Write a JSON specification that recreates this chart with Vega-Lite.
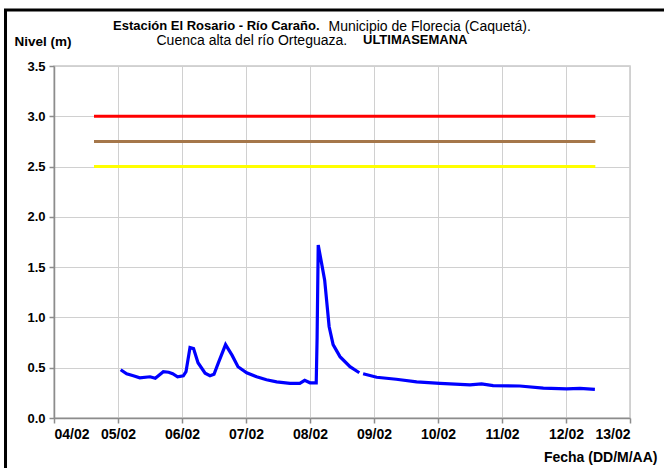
{
  "$schema": "https://vega.github.io/schema/vega-lite/v6.json",
  "width": 576,
  "height": 352,
  "autosize": "none",
  "padding": {"left": 54, "top": 66, "right": 34, "bottom": 50},
  "background": "white",
  "datasets": {
    "umbrales": [
      {"inicio": "2019-02-04T15:00:00Z", "fin": "2019-02-12T11:00:00Z", "nivel": 3.0, "alerta": "Roja"},
      {"inicio": "2019-02-04T15:00:00Z", "fin": "2019-02-12T11:00:00Z", "nivel": 2.75, "alerta": "Naranja"},
      {"inicio": "2019-02-04T15:00:00Z", "fin": "2019-02-12T11:00:00Z", "nivel": 2.5, "alerta": "Amarilla"}
    ],
    "niveles": [
      {"fecha": "2019-02-05T01:00:00Z", "nivel": 0.48, "serie": "Nivel"},
      {"fecha": "2019-02-05T03:15:00Z", "nivel": 0.44, "serie": "Nivel"},
      {"fecha": "2019-02-05T05:45:00Z", "nivel": 0.42, "serie": "Nivel"},
      {"fecha": "2019-02-05T08:10:00Z", "nivel": 0.40, "serie": "Nivel"},
      {"fecha": "2019-02-05T12:00:00Z", "nivel": 0.41, "serie": "Nivel"},
      {"fecha": "2019-02-05T14:00:00Z", "nivel": 0.395, "serie": "Nivel"},
      {"fecha": "2019-02-05T17:00:00Z", "nivel": 0.46, "serie": "Nivel"},
      {"fecha": "2019-02-05T19:00:00Z", "nivel": 0.455, "serie": "Nivel"},
      {"fecha": "2019-02-05T20:30:00Z", "nivel": 0.44, "serie": "Nivel"},
      {"fecha": "2019-02-05T22:20:00Z", "nivel": 0.41, "serie": "Nivel"},
      {"fecha": "2019-02-06T00:30:00Z", "nivel": 0.42, "serie": "Nivel"},
      {"fecha": "2019-02-06T01:30:00Z", "nivel": 0.46, "serie": "Nivel"},
      {"fecha": "2019-02-06T03:00:00Z", "nivel": 0.70, "serie": "Nivel"},
      {"fecha": "2019-02-06T04:20:00Z", "nivel": 0.69, "serie": "Nivel"},
      {"fecha": "2019-02-06T06:00:00Z", "nivel": 0.55, "serie": "Nivel"},
      {"fecha": "2019-02-06T08:40:00Z", "nivel": 0.445, "serie": "Nivel"},
      {"fecha": "2019-02-06T10:30:00Z", "nivel": 0.42, "serie": "Nivel"},
      {"fecha": "2019-02-06T12:00:00Z", "nivel": 0.435, "serie": "Nivel"},
      {"fecha": "2019-02-06T13:40:00Z", "nivel": 0.55, "serie": "Nivel"},
      {"fecha": "2019-02-06T16:20:00Z", "nivel": 0.73, "serie": "Nivel"},
      {"fecha": "2019-02-06T18:45:00Z", "nivel": 0.625, "serie": "Nivel"},
      {"fecha": "2019-02-06T21:00:00Z", "nivel": 0.51, "serie": "Nivel"},
      {"fecha": "2019-02-07T00:15:00Z", "nivel": 0.45, "serie": "Nivel"},
      {"fecha": "2019-02-07T04:00:00Z", "nivel": 0.41, "serie": "Nivel"},
      {"fecha": "2019-02-07T07:40:00Z", "nivel": 0.38, "serie": "Nivel"},
      {"fecha": "2019-02-07T11:30:00Z", "nivel": 0.36, "serie": "Nivel"},
      {"fecha": "2019-02-07T16:30:00Z", "nivel": 0.345, "serie": "Nivel"},
      {"fecha": "2019-02-07T20:10:00Z", "nivel": 0.345, "serie": "Nivel"},
      {"fecha": "2019-02-07T22:00:00Z", "nivel": 0.375, "serie": "Nivel"},
      {"fecha": "2019-02-08T00:00:00Z", "nivel": 0.35, "serie": "Nivel"},
      {"fecha": "2019-02-08T02:20:00Z", "nivel": 0.35, "serie": "Nivel"},
      {"fecha": "2019-02-08T02:40:00Z", "nivel": 0.80, "serie": "Nivel"},
      {"fecha": "2019-02-08T03:05:00Z", "nivel": 1.72, "serie": "Nivel"},
      {"fecha": "2019-02-08T04:20:00Z", "nivel": 1.54, "serie": "Nivel"},
      {"fecha": "2019-02-08T05:30:00Z", "nivel": 1.37, "serie": "Nivel"},
      {"fecha": "2019-02-08T07:10:00Z", "nivel": 0.91, "serie": "Nivel"},
      {"fecha": "2019-02-08T08:40:00Z", "nivel": 0.73, "serie": "Nivel"},
      {"fecha": "2019-02-08T11:15:00Z", "nivel": 0.61, "serie": "Nivel"},
      {"fecha": "2019-02-08T15:00:00Z", "nivel": 0.51, "serie": "Nivel"},
      {"fecha": "2019-02-08T18:30:00Z", "nivel": 0.45, "serie": "Nivel"},
      {"fecha": "2019-02-08T19:10:00Z", "nivel": null, "serie": "Nivel"},
      {"fecha": "2019-02-08T19:55:00Z", "nivel": 0.44, "serie": "Nivel"},
      {"fecha": "2019-02-09T01:00:00Z", "nivel": 0.405, "serie": "Nivel"},
      {"fecha": "2019-02-09T08:20:00Z", "nivel": 0.385, "serie": "Nivel"},
      {"fecha": "2019-02-09T16:00:00Z", "nivel": 0.36, "serie": "Nivel"},
      {"fecha": "2019-02-10T00:45:00Z", "nivel": 0.345, "serie": "Nivel"},
      {"fecha": "2019-02-10T12:00:00Z", "nivel": 0.33, "serie": "Nivel"},
      {"fecha": "2019-02-10T16:20:00Z", "nivel": 0.34, "serie": "Nivel"},
      {"fecha": "2019-02-10T20:40:00Z", "nivel": 0.322, "serie": "Nivel"},
      {"fecha": "2019-02-11T06:40:00Z", "nivel": 0.318, "serie": "Nivel"},
      {"fecha": "2019-02-11T15:30:00Z", "nivel": 0.297, "serie": "Nivel"},
      {"fecha": "2019-02-12T00:15:00Z", "nivel": 0.29, "serie": "Nivel"},
      {"fecha": "2019-02-12T05:15:00Z", "nivel": 0.295, "serie": "Nivel"},
      {"fecha": "2019-02-12T10:50:00Z", "nivel": 0.285, "serie": "Nivel"}
    ]
  },
  "layer": [
    {
      "data": {"name": "umbrales"},
      "mark": {"type": "rule", "strokeWidth": 3},
      "encoding": {
        "x": {
          "field": "inicio", "type": "temporal",
          "scale": {"type": "utc", "domain": [{"year": 2019, "month": 2, "date": 4, "utc": true}, {"year": 2019, "month": 2, "date": 13, "utc": true}]},
          "axis": {
            "orient": "bottom",
            "format": "%d/%m",
            "values": [
              {"year": 2019, "month": 2, "date": 4, "utc": true},
              {"year": 2019, "month": 2, "date": 5, "utc": true},
              {"year": 2019, "month": 2, "date": 6, "utc": true},
              {"year": 2019, "month": 2, "date": 7, "utc": true},
              {"year": 2019, "month": 2, "date": 8, "utc": true},
              {"year": 2019, "month": 2, "date": 9, "utc": true},
              {"year": 2019, "month": 2, "date": 10, "utc": true},
              {"year": 2019, "month": 2, "date": 11, "utc": true},
              {"year": 2019, "month": 2, "date": 12, "utc": true},
              {"year": 2019, "month": 2, "date": 13, "utc": true}
            ],
            "labelFontSize": 14,
            "labelPadding": 4,
            "title": "Fecha (DD/M/AA)",
            "titleFontSize": 14,
            "titleX": 603,
            "titleY": 43,
            "titleAlign": "right",
            "titleBaseline": "alphabetic",
            "titleAnchor": "end"
          }
        },
        "x2": {"field": "fin"},
        "y": {
          "field": "nivel", "type": "quantitative",
          "scale": {"domain": [0, 3.5], "nice": false, "zero": true},
          "axis": {
            "orient": "left",
            "values": [0, 0.5, 1, 1.5, 2, 2.5, 3, 3.5],
            "format": ".1f",
            "labelFontSize": 13,
            "labelPadding": 4,
            "title": "Nivel (m)",
            "titleFontSize": 13.5,
            "titleAngle": 0,
            "titleX": -40,
            "titleY": -21,
            "titleAlign": "left",
            "titleBaseline": "alphabetic"
          }
        },
        "color": {
          "field": "alerta", "type": "nominal",
          "scale": {"domain": ["Roja", "Naranja", "Amarilla"], "range": ["#ff0000", "#a5774a", "#ffff00"]},
          "legend": {
            "title": "ULTIMASEMANA",
            "orient": "none",
            "legendX": 309,
            "legendY": -32,
            "padding": 0,
            "titlePadding": 0,
            "titleFont": "Liberation Sans",
            "titleFontSize": 13,
            "titleFontWeight": "bold",
            "titleColor": "black",
            "symbolOpacity": 0,
            "symbolStrokeWidth": 0,
            "labelOpacity": 0,
            "labelFontSize": 1,
            "symbolSize": 1,
            "rowPadding": 0
          }
        }
      }
    },
    {
      "data": {"name": "niveles"},
      "mark": {"type": "line", "strokeWidth": 3.2, "invalid": "break-paths-show-domains"},
      "encoding": {
        "x": {
          "field": "fecha", "type": "temporal",
          "scale": {"type": "utc", "domain": [{"year": 2019, "month": 2, "date": 4, "utc": true}, {"year": 2019, "month": 2, "date": 13, "utc": true}]},
          "axis": {
            "orient": "top",
            "labels": false, "ticks": false, "domain": false, "grid": false,
            "title": "Municipio de Florecia (Caquetá).",
            "titleX": 274,
            "titleY": -36,
            "titleAlign": "left",
            "titleBaseline": "alphabetic",
            "titleAngle": 0,
            "titleFontWeight": "normal",
            "titleFontSize": 14
          }
        },
        "y": {
          "field": "nivel", "type": "quantitative",
          "scale": {"domain": [0, 3.5], "nice": false, "zero": true},
          "axis": {
            "orient": "right",
            "labels": false, "ticks": false, "domain": false, "grid": false,
            "title": "Cuenca alta del río Orteguaza.",
            "titleX": -474,
            "titleY": -21.5,
            "titleAlign": "left",
            "titleBaseline": "alphabetic",
            "titleAngle": 0,
            "titleFontWeight": "normal",
            "titleFontSize": 14
          }
        },
        "color": {
          "field": "serie", "type": "nominal",
          "scale": {"domain": ["Nivel"], "range": ["#0000ff"]},
          "legend": {
            "title": "Estación El Rosario - Río Caraño.",
            "orient": "none",
            "legendX": 59,
            "legendY": -46.5,
            "padding": 0,
            "titlePadding": 0,
            "titleFont": "Liberation Sans",
            "titleFontSize": 13,
            "titleFontWeight": "bold",
            "titleColor": "black",
            "titleLimit": 400,
            "symbolOpacity": 0,
            "symbolStrokeWidth": 0,
            "labelOpacity": 0,
            "labelFontSize": 1,
            "symbolSize": 1,
            "rowPadding": 0
          }
        }
      }
    },
    {
      "data": {"values": [{}]},
      "mark": {"type": "rect", "fill": null, "stroke": "black", "strokeWidth": 3, "clip": false},
      "encoding": {
        "x": {"datum": {"year": 2019, "month": 2, "date": 3, "hours": 5, "minutes": 49, "utc": true}, "type": "temporal", "axis": null,
              "scale": {"type": "utc", "domain": [{"year": 2019, "month": 2, "date": 4, "utc": true}, {"year": 2019, "month": 2, "date": 13, "utc": true}]}},
        "x2": {"datum": {"year": 2019, "month": 2, "date": 14, "utc": true}},
        "y": {"datum": 4.056, "type": "quantitative", "axis": null, "scale": {"domain": [0, 3.5], "nice": false, "zero": true}},
        "y2": {"datum": -1}
      }
    }
  ],
  "resolve": {
    "axis": {"x": "independent", "y": "independent"},
    "scale": {"color": "independent"},
    "legend": {"color": "independent"}
  },
  "config": {
    "font": "Liberation Sans",
    "view": {"stroke": "#c8c8c8", "strokeWidth": 1.5},
    "axis": {
      "labelFont": "Liberation Sans",
      "labelFontWeight": "bold",
      "labelColor": "black",
      "titleFont": "Liberation Sans",
      "titleFontWeight": "bold",
      "titleFontSize": 13,
      "titleColor": "black",
      "domainColor": "#8c8c8c",
      "domainWidth": 1.5,
      "tickColor": "#8c8c8c",
      "tickWidth": 1.5,
      "tickSize": 5,
      "gridColor": "#d0d0d0",
      "gridWidth": 1
    }
  }
}
